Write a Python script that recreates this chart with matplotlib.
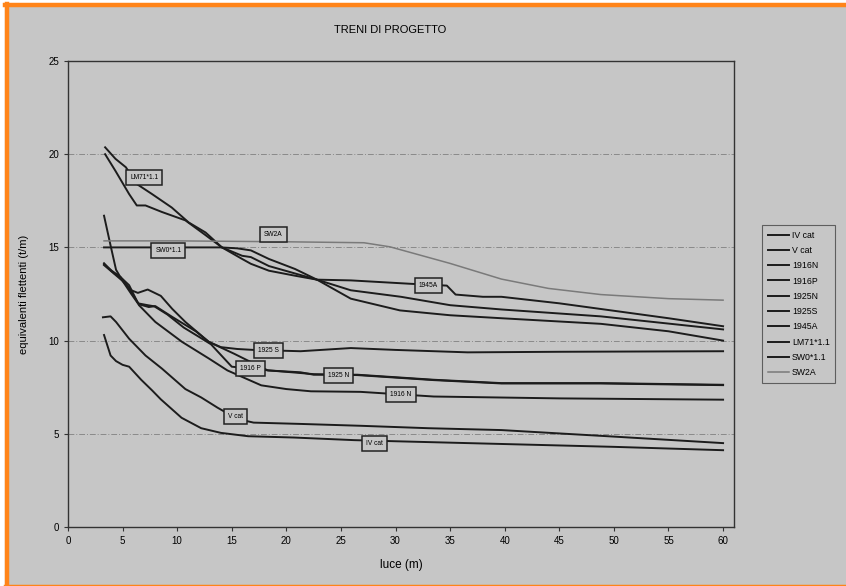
import matplotlib
matplotlib.use("Agg")
import matplotlib.pyplot as plt
from matplotlib.lines import Line2D

plt.rcParams['font.family'] = ['Liberation Sans', 'DejaVu Sans']

BG = '#c6c6c6'

# --- data (luce in m, equivalenti in t/m) ---
iv_x = [3.3, 3.9, 4.4, 5.0, 5.6, 6.7, 7.7, 8.5, 10.4, 12.2, 14.0, 16.5, 20.7, 26.2, 30, 40, 50, 60]
iv_y = [10.3, 9.2, 8.9, 8.7, 8.6, 7.9, 7.33, 6.85, 5.86, 5.3, 5.05, 4.87, 4.8, 4.66, 4.6, 4.45, 4.3, 4.12]

v_x = [3.2, 3.9, 4.4, 5.6, 7.1, 8.6, 10.75, 12.2, 13.7, 15.5, 17.0, 21.3, 26.8, 33, 39.7, 50, 60]
v_y = [11.25, 11.3, 11.0, 10.1, 9.2, 8.5, 7.4, 6.95, 6.4, 5.8, 5.6, 5.53, 5.43, 5.3, 5.2, 4.85, 4.5]

n16_x = [3.3, 4.0, 5.0, 5.6, 6.5, 8.0, 10.45, 12.9, 14.6, 17.7, 20.0, 22.25, 26.8, 33.5, 45, 60]
n16_y = [14.05, 13.7, 13.3, 12.97, 11.9, 11.0, 9.93, 9.04, 8.4, 7.6, 7.4, 7.28, 7.25, 7.0, 6.9, 6.83]

p16_x = [3.3, 4.2, 5.0, 5.8, 6.4, 7.3, 7.9, 9.1, 10.6, 12.0, 13.1, 15.0, 16.7, 18.4, 20.5, 22.5, 26.5, 33.5, 39.7, 48.8, 60]
p16_y = [14.15, 13.6, 13.2, 12.5, 12.0, 11.9, 11.84, 11.4, 10.7, 10.2, 9.8, 8.6, 8.5, 8.4, 8.3, 8.2, 8.15, 7.88, 7.7, 7.7, 7.61]

n25_x = [3.3, 4.0, 4.85, 5.8, 6.5, 7.4, 8.0, 9.55, 11.7, 12.9, 15.2, 18.3, 21.3, 22.5, 26.5, 33.5, 39.7, 48.8, 60]
n25_y = [14.1, 13.75, 13.4, 12.6, 11.95, 11.8, 11.85, 11.27, 10.5, 9.93, 9.3, 8.4, 8.3, 8.17, 8.17, 7.9, 7.72, 7.72, 7.63]

s25_x = [3.3, 3.9, 4.4, 5.0, 5.8, 6.4, 7.3, 8.5, 9.55, 10.75, 12.9, 14.0, 15.5, 17.0, 21.3, 25.9, 30, 36.6, 45, 60]
s25_y = [16.7, 15.1, 13.8, 13.2, 12.7, 12.56, 12.74, 12.4, 11.7, 11.0, 9.93, 9.65, 9.55, 9.5, 9.43, 9.6, 9.5, 9.37, 9.4, 9.43]

a45_x = [3.4, 4.35, 5.6, 6.3, 7.1, 8.6, 10.75, 12.5, 14.1, 15.95, 16.75, 18.4, 20.8, 22.8, 25.9, 31.3, 34.7, 35.5, 38, 39.7, 45, 50, 55, 60]
a45_y = [20.0, 19.1, 17.86, 17.25, 17.25, 16.9, 16.45, 15.7, 15.0, 14.38, 14.12, 13.75, 13.48, 13.27, 13.23, 13.05, 12.95, 12.47, 12.35, 12.35, 12.0, 11.6, 11.2, 10.77]

lm71_x = [3.4, 4.35, 5.3, 6.3, 7.7, 9.5, 11.05, 12.6, 14.1, 15.95, 16.75, 18.4, 20.8, 22.8, 25.9, 30.5, 35.0, 39.7, 48.8, 60]
lm71_y = [20.37, 19.75, 19.3, 18.4, 17.86, 17.14, 16.34, 15.8, 15.0, 14.55, 14.48, 14.0, 13.6, 13.27, 12.7, 12.35, 11.9, 11.67, 11.3, 10.6]

sw0_x = [3.3, 14.0, 15.5, 16.75, 18.4, 20.8, 22.8, 25.9, 30.4, 35.0, 39.7, 48.8, 55, 60]
sw0_y = [15.0, 15.0, 14.95, 14.84, 14.38, 13.84, 13.27, 12.25, 11.62, 11.36, 11.2, 10.9, 10.5, 10.0]

sw2_x = [3.3, 10, 20.1, 27.1, 29.5, 35.0, 39.7, 44, 48.8, 55, 60]
sw2_y = [15.35, 15.35, 15.3, 15.25, 15.03, 14.14, 13.3, 12.8, 12.47, 12.25, 12.17]

series = [
    ("IV cat", iv_x, iv_y),
    ("V cat", v_x, v_y),
    ("1916N", n16_x, n16_y),
    ("1916P", p16_x, p16_y),
    ("1925N", n25_x, n25_y),
    ("1925S", s25_x, s25_y),
    ("1945A", a45_x, a45_y),
    ("LM71*1.1", lm71_x, lm71_y),
    ("SW0*1.1", sw0_x, sw0_y),
    ("SW2A", sw2_x, sw2_y),
]

# in-plot tags: text, x, y
tags = [
    ("LM71*1.1", 7.0, 18.75),
    ("SW0*1.1", 9.2, 14.85),
    ("SW2A", 18.8, 15.68),
    ("1945A", 33.0, 12.95),
    ("1925 S", 18.4, 9.48),
    ("1916 P", 16.7, 8.5),
    ("1925 N", 24.8, 8.15),
    ("1916 N", 30.5, 7.12),
    ("V cat", 15.3, 5.92),
    ("IV cat", 28.1, 4.48),
]

W, H = 846, 586
fig = plt.figure(figsize=(W / 100, H / 100), dpi=100)
fig.patch.set_facecolor(BG)

# scan border: thin white margin then orange on left, top and bottom
def fig_line(xs, ys, color, lw):
    fig.lines.append(Line2D([x / W for x in xs], [1 - y / H for y in ys],
                            transform=fig.transFigure, color=color, lw=lw, zorder=0))

fig_line([0, 0], [0, H], 'white', 7)
fig_line([0, W], [0, 0], 'white', 5)
fig_line([6.5, 6.5], [4, H], '#ff8419', 3.2)
fig_line([5, W], [4.5, 4.5], '#ff8419', 3.2)
fig_line([5, W], [585.5, 585.5], '#ff8419', 2.5)

ax = fig.add_axes([68 / W, 1 - 527 / H, 666 / W, 466 / H])
ax.set_facecolor(BG)

for name, xs, ys in series:
    if name == "SW2A":
        ax.plot(xs, ys, color='#7a7a7a', lw=1.1, label=name, zorder=3)
    else:
        ax.plot(xs, ys, color='#1c1c1c', lw=1.4, label=name, zorder=3)

for txt, tx, ty in tags:
    ax.text(tx, ty, txt, fontsize=4.8, ha='center', va='center', zorder=5,
            bbox=dict(boxstyle='square,pad=0.6', facecolor=BG, edgecolor='#222222', lw=1.1))

ax.set_xlim(0, 61)
ax.set_ylim(0, 25)
ax.set_xticks(range(0, 61, 5))
ax.set_yticks(range(0, 26, 5))
ax.tick_params(labelsize=7, length=3, width=0.8, color='#333333')
for sp in ax.spines.values():
    sp.set_color('#333333')
    sp.set_linewidth(1.0)

for gy in [5, 10, 15, 20]:
    ax.axhline(gy, color='#8a8a8a', lw=0.7, ls=(0, (6, 2, 1, 2)), zorder=1)

ax.set_xlabel("luce (m)", fontsize=8.5, labelpad=9)
ax.set_ylabel("equivalenti flettenti (t/m)", fontsize=8, labelpad=14)
fig.text(390 / W, 1 - 30 / H, "TRENI DI PROGETTO", fontsize=8, ha='center', va='center')

leg = ax.legend(loc='upper left', bbox_to_anchor=(758 / W, 1 - 221 / H), bbox_transform=fig.transFigure,
                fontsize=6.3, frameon=True, fancybox=False, handlelength=2.4, handletextpad=0.4,
                labelspacing=0.72, borderpad=0.6)
leg.get_frame().set_facecolor(BG)
leg.get_frame().set_edgecolor('#444444')
leg.get_frame().set_linewidth(0.8)

fig.savefig("out.png", dpi=100, facecolor=BG)
